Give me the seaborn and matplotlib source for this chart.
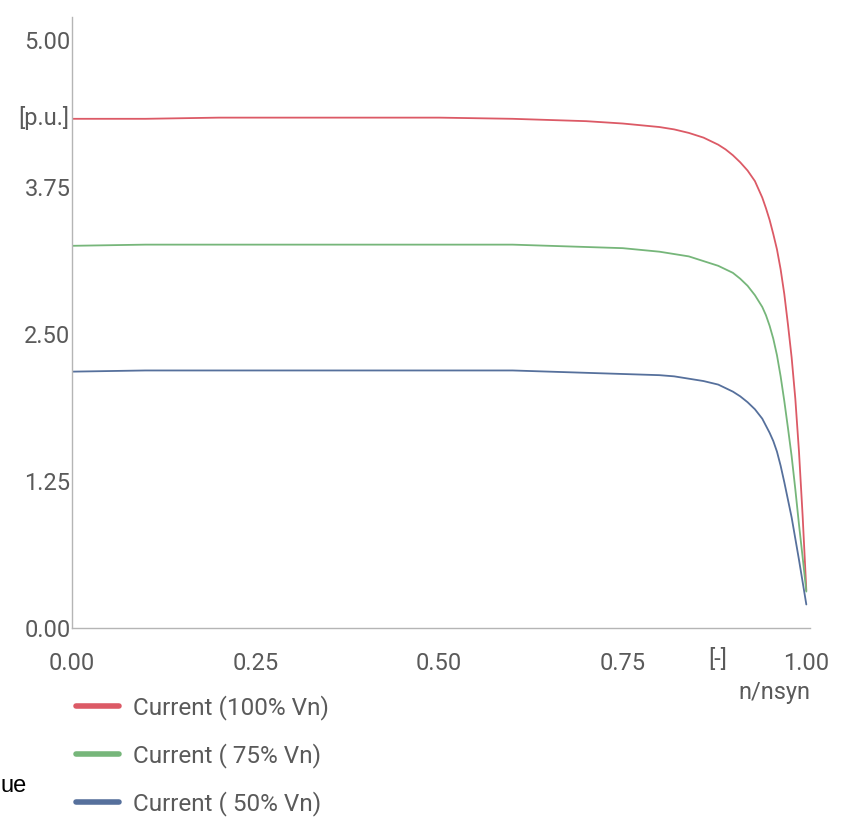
import numpy as np
import pandas as pd
import matplotlib
matplotlib.use("Agg")
import matplotlib.pyplot as plt
from matplotlib.lines import Line2D
import seaborn as sns

# -----------------------------
# Data (speed ratio n/nsyn vs current in p.u.)
# -----------------------------
speed = [0.0, 0.1, 0.2, 0.3, 0.4, 0.5, 0.6, 0.65, 0.7, 0.75, 0.8, 0.82, 0.84, 0.86,
         0.88, 0.89, 0.90, 0.91, 0.92, 0.93, 0.94, 0.945, 0.95, 0.955, 0.96, 0.965,
         0.97, 0.975, 0.98, 0.985, 0.99, 0.995, 1.0]

current_100 = [4.33, 4.33, 4.34, 4.34, 4.34, 4.34, 4.33, 4.32, 4.31, 4.29, 4.26, 4.24, 4.21, 4.17,
               4.11, 4.07, 4.02, 3.96, 3.89, 3.80, 3.66, 3.57, 3.47, 3.35, 3.22, 3.05,
               2.84, 2.58, 2.30, 1.95, 1.50, 0.95, 0.32]
current_75 = [3.25, 3.26, 3.26, 3.26, 3.26, 3.26, 3.26, 3.25, 3.24, 3.23, 3.20, 3.18, 3.16, 3.12,
              3.08, 3.05, 3.02, 2.97, 2.91, 2.83, 2.73, 2.66, 2.57, 2.46, 2.32, 2.14,
              1.93, 1.70, 1.46, 1.18, 0.88, 0.60, 0.31]
current_50 = [2.18, 2.19, 2.19, 2.19, 2.19, 2.19, 2.19, 2.18, 2.17, 2.16, 2.15, 2.14, 2.12, 2.10,
              2.07, 2.04, 2.01, 1.97, 1.92, 1.86, 1.78, 1.72, 1.66, 1.59, 1.50, 1.38,
              1.24, 1.09, 0.94, 0.76, 0.58, 0.39, 0.20]

labels = ["Current (100% Vn)", "Current ( 75% Vn)", "Current ( 50% Vn)"]
colors = ["#dc5a66", "#76b67a", "#56709c"]

x_ticks = [0.0, 0.25, 0.5, 0.75, 1.0]
y_ticks = [0.0, 1.25, 2.5, 3.75, 5.0]

df = pd.DataFrame({
    "speed": speed * 3,
    "current": current_100 + current_75 + current_50,
    "series": [labels[0]] * len(speed) + [labels[1]] * len(speed) + [labels[2]] * len(speed),
})

# -----------------------------
# Style
# -----------------------------
sns.set_style("white")
plt.rcParams["font.family"] = ["Roboto", "DejaVu Sans"]
TEXT_GREY = "#5a5a5a"
TICK_SIZE = 17

fig = plt.figure(figsize=(8.44, 8.23), dpi=100)
ax = fig.add_axes([72 / 844, 195 / 823, 738 / 844, 611.5 / 823])

sns.lineplot(data=df, x="speed", y="current", hue="series", hue_order=labels,
             palette=dict(zip(labels, colors)), estimator=None, sort=False,
             linewidth=1.3, legend=False, ax=ax)

ax.set_xlim(0, 1.005)
ax.set_ylim(0, 5.2)
ax.set_xticks(x_ticks)
ax.set_yticks(y_ticks)
ax.set_xticklabels([f"{t:.2f}" for t in x_ticks])
ax.set_yticklabels([f"{t:.2f}" for t in y_ticks])
ax.tick_params(axis="x", length=0, pad=17, labelsize=TICK_SIZE, labelcolor=TEXT_GREY)
ax.tick_params(axis="y", length=0, pad=1, labelsize=TICK_SIZE, labelcolor=TEXT_GREY)
ax.set_xlabel("")
ax.set_ylabel("")

for side in ["top", "right"]:
    ax.spines[side].set_visible(False)
for side in ["left", "bottom"]:
    ax.spines[side].set_color("#b5b5b5")
    ax.spines[side].set_linewidth(1.0)

# unit labels
ax.text(-0.004, 4.34, "[p.u.]", ha="right", va="center", fontsize=TICK_SIZE,
        color=TEXT_GREY, transform=ax.transData)
fig.text(718 / 844, 1 - 659 / 823, "[-]", ha="center", va="center",
         fontsize=TICK_SIZE, color=TEXT_GREY)
fig.text(810 / 844, 1 - 692 / 823, "n/nsyn", ha="right", va="center",
         fontsize=TICK_SIZE, color=TEXT_GREY)

# legend
handles = [Line2D([0], [0], color=c, linewidth=4) for c in colors]
fig.legend(handles, labels, loc="upper left", bbox_to_anchor=(76 / 844, 1 - 695 / 823),
           frameon=False, fontsize=17.5, labelcolor=TEXT_GREY, borderpad=0,
           borderaxespad=0, handlelength=1.75, handletextpad=0.6, labelspacing=0.95)

# cut-off word at the left edge
fig.text(0.0, 1 - 792 / 823, "ue", ha="left", va="baseline", fontsize=17,
         color="black", family=["Liberation Sans", "DejaVu Sans"])

fig.savefig("out.png", dpi=100)
